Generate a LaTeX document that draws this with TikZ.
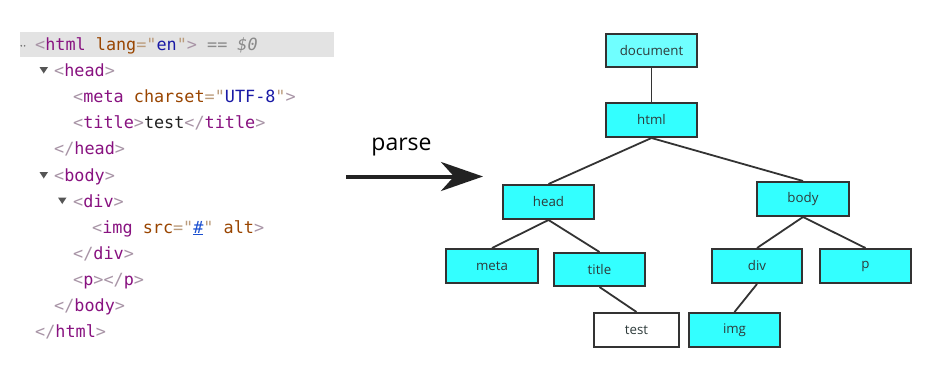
\documentclass[tikz,border=0pt]{standalone}
\usepackage{fontspec}
\setmainfont{Open Sans}
\setmonofont{DejaVu Sans Mono}
\usetikzlibrary{arrows.meta}
\definecolor{brk}{HTML}{A894A6}
\definecolor{tagc}{HTML}{881280}
\definecolor{attrc}{HTML}{994500}
\definecolor{quotc}{HTML}{BB9C7C}
\definecolor{valc}{HTML}{1A1AA6}
\definecolor{gryc}{HTML}{8A8A8A}
\definecolor{linkc}{HTML}{1A4FD0}
\definecolor{txtc}{HTML}{222222}
\definecolor{bandc}{HTML}{E3E3E3}
\definecolor{tric}{HTML}{555555}
\definecolor{edgec}{HTML}{333333}
\definecolor{cyanbox}{HTML}{33FFFF}
\definecolor{cyanlight}{HTML}{70FFFF}
\definecolor{nodetext}{HTML}{2E3B3B}
\definecolor{arrowc}{HTML}{222222}
\newcommand\cBr[1]{\textcolor{brk}{#1}}
\newcommand\cTg[1]{\textcolor{tagc}{#1}}
\newcommand\cAt[1]{\textcolor{attrc}{#1}}
\newcommand\cQt[1]{\textcolor{quotc}{#1}}
\newcommand\cVa[1]{\textcolor{valc}{#1}}
\tikzset{
  tbox/.style={draw=edgec, line width=2pt, fill=cyanbox, minimum width=91pt,
    minimum height=34pt, inner sep=0pt, font=\fontsize{13.3}{15}\selectfont, text=nodetext},
  codeline/.style={anchor=base west, inner sep=0pt, font=\ttfamily\fontsize{16.8}{20}\selectfont},
  link/.style={draw=edgec, line width=1.8pt},
  tri/.style={fill=tric},
}
\begin{document}
\begin{tikzpicture}[x=1pt,y=-1pt]
\useasboundingbox (0,0) rectangle (936,383);
\fill[white] (0,0) rectangle (936,383);
% code panel
\fill[bandc] (20,32) rectangle (334,57);
\fill[gryc!80!black] (21.3,45.8) circle (0.9);
\fill[gryc!80!black] (24.6,45.8) circle (0.9);
\node[codeline] (c0) at (35,50.5) {\cBr{<}\cTg{html} \cAt{lang}\cQt{="}\cVa{en}\cQt{"}\cBr{>} {\color{gryc}\itshape == \$0}};
\fill[tri] (39.5,67) -- (48,67) -- (43.75,73.5) -- cycle;
\node[codeline] (c1) at (54,76.6) {\cBr{<}\cTg{head}\cBr{>}};
\node[codeline] (c2) at (73,102.7) {\cBr{<}\cTg{meta} \cAt{charset}\cQt{="}\cVa{UTF-8}\cQt{"}\cBr{>}};
\node[codeline] (c3) at (73,128.8) {\cBr{<}\cTg{title}\cBr{>}\textcolor{txtc}{test}\cBr{</}\cTg{title}\cBr{>}};
\node[codeline] (c4) at (54,154.9) {\cBr{</}\cTg{head}\cBr{>}};
\fill[tri] (39.5,172) -- (48,172) -- (43.75,178.5) -- cycle;
\node[codeline] (c5) at (54,181) {\cBr{<}\cTg{body}\cBr{>}};
\fill[tri] (58,197.5) -- (66.5,197.5) -- (62.25,204) -- cycle;
\node[codeline] (c6) at (73,207.1) {\cBr{<}\cTg{div}\cBr{>}};
\node[codeline] (c7) at (92,233.2) {\cBr{<}\cTg{img} \cAt{src}\cQt{="}\textcolor{linkc}{\underline{\#}}\cQt{"} \cAt{alt}\cBr{>}};
\node[codeline] (c8) at (73,259.3) {\cBr{</}\cTg{div}\cBr{>}};
\node[codeline] (c9) at (73,285.4) {\cBr{<}\cTg{p}\cBr{></}\cTg{p}\cBr{>}};
\node[codeline] (c10) at (54,311.5) {\cBr{</}\cTg{body}\cBr{>}};
\node[codeline] (c11) at (35,337.6) {\cBr{</}\cTg{html}\cBr{>}};
% arrow
\node[anchor=base, inner sep=0pt, font=\fontsize{23}{26}\selectfont, text=black] (parse) at (401.5,150) {parse};
\coordinate (ps) at (346,176.5);
\coordinate (pe) at (483,176.5);
\draw[line width=4pt, arrowc, -{Stealth[length=42pt,width=29pt,inset=13pt]}] (ps) -- (pe);
% tree
\node[tbox, fill=cyanlight, minimum height=33pt] (doc) at (651.5,50.5) {document};
\node[tbox] (html) at (651.5,120) {html};
\node[tbox] (head) at (548.5,202) {head};
\node[tbox, minimum width=92pt] (body) at (803,199) {body};
\node[tbox, minimum width=92pt] (meta) at (492,266) {meta};
\node[tbox, minimum height=33pt] (title) at (599.5,269.5) {title};
\node[tbox, minimum width=90pt] (div) at (757,266) {div};
\node[tbox] (p) at (865.5,266) {p};
\node[tbox, fill=white, minimum width=85pt] (test) at (636.5,330) {test};
\node[tbox] (img) at (734.5,330) {img};
\draw[link] (doc.south) -- (html.north);
\draw[link] (html.south) -- (head.north);
\draw[link] (html.south) -- (body.north);
\draw[link] (head.south) -- (meta.north);
\draw[link] (head.south) -- (title.north);
\draw[link] (title.south) -- (test.north);
\draw[link] (body.south) -- (div.north);
\draw[link] (body.south) -- (p.north);
\draw[link] (div.south) -- (img.north);
\end{tikzpicture}
\end{document}
